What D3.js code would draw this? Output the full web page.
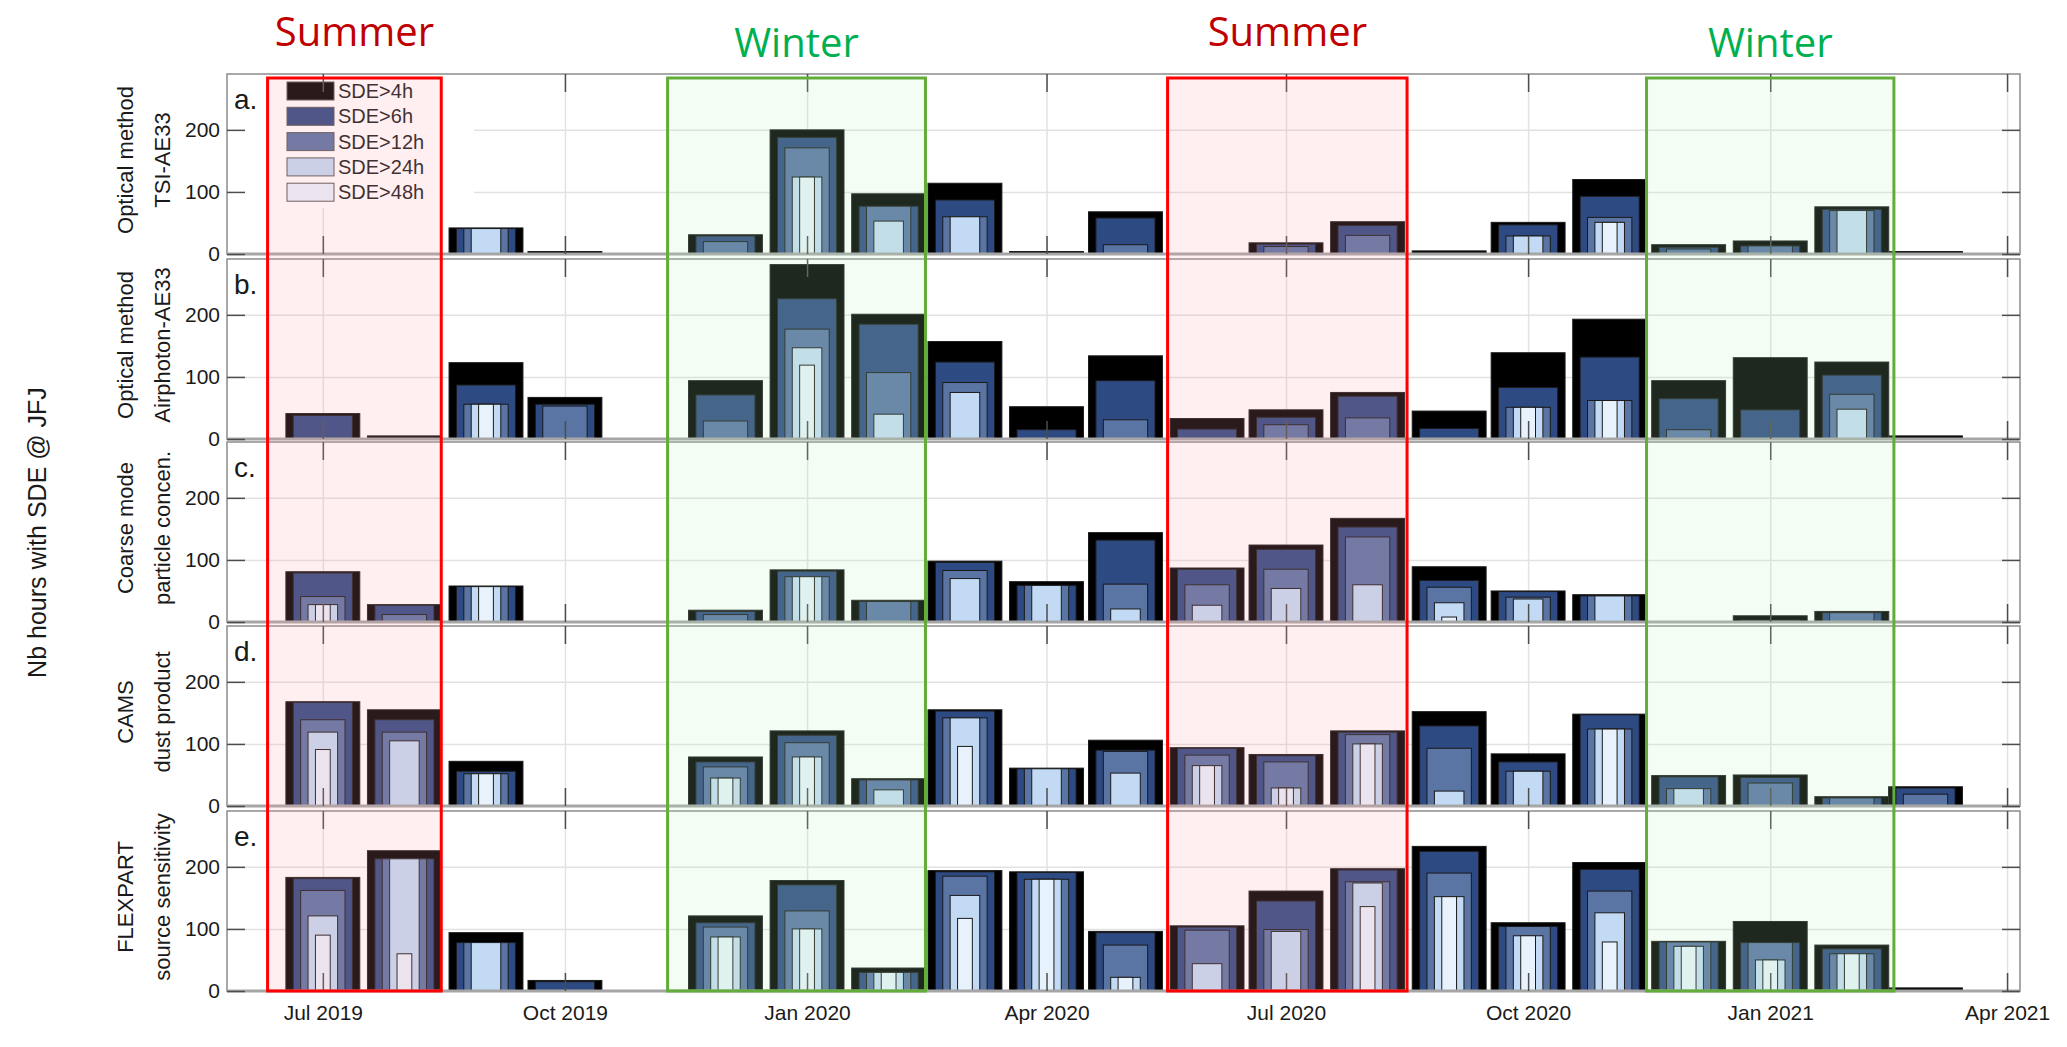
<!DOCTYPE html>
<html>
<head>
<meta charset="utf-8">
<script src="https://cdn.jsdelivr.net/npm/d3@7"></script>
<style>
  body { margin: 0; background: #fff; }
  svg { display: block; }
  text { font-family: "Liberation Sans", Arial, sans-serif; fill: #1a1a1a; }
</style>
</head>
<body>
<div id="chart"></div>
<script>
// months (bars centred on the 1st of each month)
const months = ['2019-07','2019-08','2019-09','2019-10','2019-11','2019-12',
                '2020-01','2020-02','2020-03','2020-04','2020-05','2020-06',
                '2020-07','2020-08','2020-09','2020-10','2020-11','2020-12',
                '2021-01','2021-02','2021-03'];
const thresholds = ['SDE>4h', 'SDE>6h', 'SDE>12h', 'SDE>24h', 'SDE>48h'];

// a. Optical method TSI-AE33
const a4h  = [0, 0, 42, 4, 0, 31, 200, 97, 114, 4, 68, 0, 18, 52, 5, 51, 120, 15, 21, 76, 4];
const a6h  = [0, 0, 41, 0, 0, 29, 188, 77, 87, 0, 58, 0, 16, 46, 0, 47, 93, 11, 13, 72, 0];
const a12h = [0, 0, 41, 0, 0, 20, 171, 77, 60, 0, 15, 0, 12, 30, 0, 29, 59, 8, 13, 70, 0];
const a24h = [0, 0, 41, 0, 0, 0, 124, 53, 60, 0, 0, 0, 0, 0, 0, 29, 51, 0, 0, 70, 0];
const a48h = [0, 0, 0, 0, 0, 0, 124, 0, 0, 0, 0, 0, 0, 0, 0, 0, 51, 0, 0, 0, 0];

// b. Optical method Airphoton-AE33
const b4h  = [41, 5, 123, 67, 0, 94, 281, 201, 157, 52, 134, 33, 47, 75, 45, 139, 193, 94, 131, 124, 5];
const b6h  = [38, 0, 87, 56, 0, 71, 226, 185, 124, 15, 94, 16, 35, 69, 17, 83, 132, 65, 47, 103, 0];
const b12h = [0, 0, 56, 53, 0, 29, 177, 107, 91, 0, 31, 0, 23, 34, 0, 51, 62, 15, 0, 72, 0];
const b24h = [0, 0, 56, 0, 0, 0, 147, 40, 75, 0, 0, 0, 0, 0, 0, 51, 62, 0, 0, 48, 0];
const b48h = [0, 0, 56, 0, 0, 0, 119, 0, 0, 0, 0, 0, 0, 0, 0, 51, 62, 0, 0, 0, 0];

// c. Coarse mode particle concentration
const c4h  = [81, 28, 58, 0, 0, 19, 84, 35, 98, 65, 144, 87, 124, 167, 89, 50, 44, 0, 10, 17, 0];
const c6h  = [79, 27, 57, 0, 0, 17, 82, 33, 96, 59, 132, 85, 117, 153, 67, 49, 42, 0, 3, 15, 0];
const c12h = [41, 12, 57, 0, 0, 12, 73, 33, 83, 59, 61, 60, 85, 137, 56, 40, 42, 0, 0, 15, 0];
const c24h = [28, 0, 57, 0, 0, 0, 73, 0, 70, 59, 21, 27, 54, 60, 31, 37, 42, 0, 0, 0, 0];
const c48h = [28, 0, 57, 0, 0, 0, 73, 0, 0, 0, 0, 0, 0, 0, 8, 0, 0, 0, 0, 0, 0];

// d. CAMS dust product
const d4h  = [168, 155, 72, 0, 0, 79, 121, 44, 155, 61, 106, 94, 83, 121, 152, 84, 148, 49, 50, 15, 31];
const d6h  = [167, 139, 56, 0, 0, 71, 114, 42, 153, 60, 90, 93, 81, 119, 129, 71, 147, 47, 46, 13, 29];
const d12h = [139, 119, 52, 0, 0, 63, 102, 42, 142, 60, 88, 82, 71, 115, 93, 56, 124, 28, 37, 13, 19];
const d24h = [119, 105, 52, 0, 0, 45, 79, 26, 142, 60, 53, 65, 29, 100, 24, 56, 124, 28, 0, 0, 0];
const d48h = [91, 0, 52, 0, 0, 45, 79, 0, 96, 0, 0, 65, 29, 100, 0, 0, 124, 0, 0, 0, 0];

// e. FLEXPART source sensitivity
const e4h  = [183, 226, 94, 17, 0, 121, 178, 37, 194, 192, 96, 105, 161, 197, 233, 110, 207, 80, 112, 74, 5];
const e6h  = [181, 213, 78, 15, 0, 110, 171, 30, 192, 191, 94, 103, 145, 195, 225, 104, 196, 79, 78, 68, 0];
const e12h = [162, 213, 78, 0, 0, 103, 129, 30, 185, 180, 74, 98, 99, 176, 190, 104, 161, 79, 78, 60, 0];
const e24h = [121, 213, 78, 0, 0, 87, 100, 30, 154, 180, 22, 44, 96, 174, 152, 89, 126, 72, 50, 60, 0];
const e48h = [90, 60, 0, 0, 0, 87, 100, 30, 117, 180, 22, 0, 0, 136, 152, 89, 79, 72, 50, 60, 0];

const panelIds = ['a.', 'b.', 'c.', 'd.', 'e.'];
const panelLabels = [
    ['Optical method', 'TSI-AE33'],
    ['Optical method', 'Airphoton-AE33'],
    ['Coarse mode', 'particle concen.'],
    ['CAMS', 'dust product'],
    ['FLEXPART', 'source sensitivity']
];
const panelSeries = [
    [a4h, a6h, a12h, a24h, a48h],
    [b4h, b6h, b12h, b24h, b48h],
    [c4h, c6h, c12h, c24h, c48h],
    [d4h, d6h, d12h, d24h, d48h],
    [e4h, e6h, e12h, e24h, e48h]
];

// highlighted seasons
const seasonNames  = ['Summer', 'Winter', 'Summer', 'Winter'];
const seasonStarts = ['2019-06-10', '2019-11-09', '2020-05-17', '2020-11-15'];
const seasonEnds   = ['2019-08-15', '2020-02-15', '2020-08-16', '2021-02-17'];

const yTicks = [0, 100, 200];

// ---- layout / style ----
const width = 2067, height = 1047;
const plotLeft = 227, plotRight = 2020;
const panelTops = [74, 259, 442, 626, 811];
const panelH = 180;
const tickLen = 18;
const barColors = ['#000000', '#2e4a82', '#5a74a4', '#c2daf4', '#e8f2fc'];
const seasonStyle = {
    Summer: { fill: 'rgb(255,158,170)', stroke: '#ff0000', text: '#c00000', base: 46 },
    Winter: { fill: 'rgb(190,245,180)', stroke: '#62ad3a', text: '#00b050', base: 57 }
};

const parseMonth = d3.utcParse('%Y-%m');
const parseDay = d3.utcParse('%Y-%m-%d');

const svg = d3.select('#chart')
    .append('svg')
    .attr('width', width)
    .attr('height', height);

const x = d3.scaleUtc()
    .domain([new Date(Date.UTC(2019, 4, 25, 14)), new Date(Date.UTC(2021, 3, 5, 22))])
    .range([plotLeft, plotRight]);

const y = d3.scaleLinear().domain([0, 290]).range([panelH, 0]);

const quarterTicks = d3.utcMonth.every(3).range(new Date(Date.UTC(2019, 6, 1)), new Date(Date.UTC(2021, 3, 2)));
const barDays = 28.1;
const plotW = plotRight - plotLeft;

function styleAxis(g, color, w) {
    g.select('.domain').remove();
    g.selectAll('.tick line').attr('stroke', color).attr('stroke-width', w);
}

panelSeries.forEach((series, p) => {
    const top = panelTops[p];
    const g = svg.append('g').attr('transform', `translate(0,${top})`);

    g.append('rect')
        .attr('x', plotLeft).attr('y', 0)
        .attr('width', plotW).attr('height', panelH)
        .attr('fill', '#fff');

    // grid
    g.append('g')
        .attr('transform', `translate(0,${panelH})`)
        .call(d3.axisBottom(x).tickValues(quarterTicks).tickSize(-panelH).tickFormat(''))
        .call(ax => styleAxis(ax, '#e2e2e2', 1.5));
    g.append('g')
        .attr('transform', `translate(${plotLeft},0)`)
        .call(d3.axisLeft(y).tickValues([100, 200]).tickSize(-plotW).tickFormat(''))
        .call(ax => styleAxis(ax, '#e2e2e2', 1.5));

    // stacked-width bars: widest first
    series.forEach((vals, i) => {
        const frac = 1 - 0.2 * i;
        g.append('g').selectAll('rect')
            .data(months.map((m, k) => ({ date: parseMonth(m), v: vals[k] })).filter(d => d.v > 0))
            .join('rect')
            .attr('x', d => {
                const c = x(d.date);
                const half = (x(d3.utcHour.offset(d.date, barDays * 24)) - c) * frac / 2;
                return c - half;
            })
            .attr('width', d => (x(d3.utcHour.offset(d.date, barDays * 24)) - x(d.date)) * frac)
            .attr('y', d => y(d.v))
            .attr('height', d => y(0) - y(d.v))
            .attr('fill', barColors[i])
            .attr('stroke', '#1a1a1a')
            .attr('stroke-width', 1);
    });

    // legend in panel a
    if (p === 0) {
        const lg = g.append('g');
        lg.append('rect')
            .attr('x', plotLeft + 2).attr('y', 1)
            .attr('width', 474 - plotLeft - 2).attr('height', 133)
            .attr('fill', '#fff');
        thresholds.forEach((t, i) => {
            lg.append('rect')
                .attr('x', 287).attr('y', 8 + i * 25.3)
                .attr('width', 47).attr('height', 18)
                .attr('fill', barColors[i])
                .attr('stroke', '#555').attr('stroke-width', 1);
            lg.append('text')
                .attr('x', 338).attr('y', 8 + i * 25.3 + 16)
                .attr('font-size', 20)
                .text(t);
        });
    }

    // frame
    g.append('rect')
        .attr('x', plotLeft).attr('y', 0)
        .attr('width', plotW).attr('height', panelH)
        .attr('fill', 'none')
        .attr('stroke', '#8c8c8c').attr('stroke-width', 1.5);
    g.append('line')
        .attr('x1', plotLeft).attr('x2', plotRight)
        .attr('y1', panelH).attr('y2', panelH)
        .attr('stroke', '#a6a6a6').attr('stroke-width', 3);

    // inward ticks on all four sides
    const bottomAxis = d3.axisBottom(x).tickValues(quarterTicks)
        .tickSizeInner(-tickLen).tickSizeOuter(0).tickPadding(14)
        .tickFormat(p === 4 ? d3.utcFormat('%b %Y') : '');
    g.append('g')
        .attr('transform', `translate(0,${panelH})`)
        .call(bottomAxis)
        .call(ax => styleAxis(ax, '#4d4d4d', 1.5))
        .call(ax => ax.selectAll('text').attr('font-size', 21).attr('fill', '#1a1a1a')
            .style('font-family', '"Liberation Sans", Arial, sans-serif'));
    g.append('g')
        .call(d3.axisTop(x).tickValues(quarterTicks).tickSizeInner(-tickLen).tickSizeOuter(0).tickFormat(''))
        .call(ax => styleAxis(ax, '#4d4d4d', 1.5));
    g.append('g')
        .attr('transform', `translate(${plotLeft},0)`)
        .call(d3.axisLeft(y).tickValues(yTicks).tickSizeInner(-tickLen).tickSizeOuter(0).tickPadding(7))
        .call(ax => styleAxis(ax, '#4d4d4d', 1.5))
        .call(ax => ax.selectAll('text').attr('font-size', 21).attr('fill', '#1a1a1a')
            .style('font-family', '"Liberation Sans", Arial, sans-serif'));
    g.append('g')
        .attr('transform', `translate(${plotRight},0)`)
        .call(d3.axisRight(y).tickValues(yTicks).tickSizeInner(-tickLen).tickSizeOuter(0).tickFormat(''))
        .call(ax => styleAxis(ax, '#4d4d4d', 1.5));

    // panel letter
    g.append('text')
        .attr('x', 234).attr('y', 35)
        .attr('font-size', 28)
        .text(panelIds[p]);

    // panel label (two rotated lines)
    const mid = panelH / 2 - 4;
    [133, 170].forEach((bx, li) => {
        g.append('text')
            .attr('transform', `translate(${bx},${mid}) rotate(-90)`)
            .attr('text-anchor', 'middle')
            .attr('font-size', 22)
            .text(panelLabels[p][li]);
    });
});

// season overlays: translucent fill on top of everything, then outline
const seasonTop = 78, seasonBottom = panelTops[4] + panelH;
seasonNames.forEach((name, s) => {
    const st = seasonStyle[name];
    const x0 = x(parseDay(seasonStarts[s]));
    const x1 = x(parseDay(seasonEnds[s]));
    svg.append('rect')
        .attr('x', x0).attr('y', seasonTop)
        .attr('width', x1 - x0).attr('height', seasonBottom - seasonTop)
        .attr('fill', st.fill).attr('fill-opacity', 0.165)
        .attr('stroke', st.stroke).attr('stroke-width', 3);
    svg.append('text')
        .attr('x', (x0 + x1) / 2).attr('y', st.base)
        .attr('text-anchor', 'middle')
        .style('font-family', '"Open Sans", sans-serif')
        .style('fill', st.text)
        .attr('font-size', 40)
        .text(name);
});

// overall y label
svg.append('text')
    .attr('transform', `translate(46,${(panelTops[0] + seasonBottom) / 2}) rotate(-90)`)
    .attr('text-anchor', 'middle')
    .attr('font-size', 25)
    .text('Nb hours with SDE @ JFJ');
</script>
</body>
</html>
